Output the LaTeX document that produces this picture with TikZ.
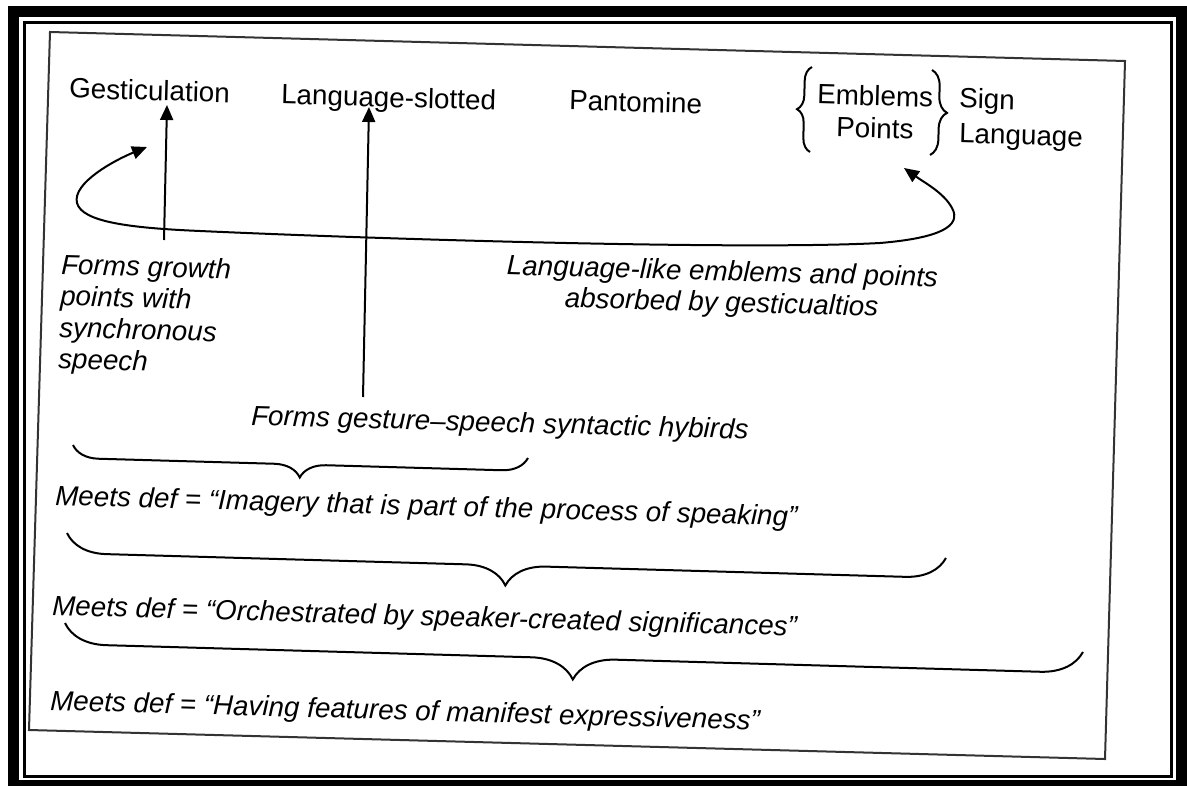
\documentclass[tikz,border=0pt]{standalone}
\usepackage{fontspec}
\setmainfont{Liberation Sans}
\usetikzlibrary{arrows.meta,decorations.pathreplacing}
\begin{document}
\begin{tikzpicture}[x=0.5pt,y=-0.5pt,
  lbl/.style={inner sep=0pt, outer sep=0pt, font=\fontsize{13.9}{16}\selectfont, rotate=-1.6, anchor=base west},
  ilbl/.style={lbl, font=\fontsize{13.9}{16}\selectfont\itshape},
  ln/.style={line width=1pt, black},
  arr/.style={ln, -{Triangle[length=7.5pt,width=6.5pt]}},
  darr/.style={ln, {Triangle[length=7.5pt,width=6.5pt]}-{Triangle[length=7.5pt,width=6.5pt]}},
  brc/.style={ln, decorate, decoration={brace, mirror, amplitude=#1}},
  vbrc/.style={ln, decorate, decoration={brace, amplitude=#1}},
]
\useasboundingbox (0,0) rectangle (1187,786);
\fill[white] (0,0) rectangle (1187,786);
% frame
\fill[black] (8,6) rectangle (1187,786);
\fill[white] (19,17) rectangle (1176,780);
\draw[line width=1.5pt] (24,22.5) rectangle (1171.5,776.5);
% page
\draw[line width=1pt, black!80] (50,32) -- (1125,61) -- (1105,759) -- (29,730) -- cycle;

% top labels
\node[lbl] (gest) at (69,98) {Gesticulation};
\node[lbl] (lslot) at (281,104) {Language-slotted};
\node[lbl] (pant) at (569,110) {Pantomine};
\node[lbl] (embl) at (817,104) {Emblems};
\node[lbl] (pts) at (836,137) {Points};
\node[lbl] (sign) at (959,108) {Sign};
\node[lbl] (slang) at (959,143) {Language};

% italic labels
\node[ilbl] (fg1) at (61,274) {Forms growth};
\node[ilbl] (fg2) at (60,305.5) {points with};
\node[ilbl] (fg3) at (59,337) {synchronous};
\node[ilbl] (fg4) at (58,368.5) {speech};
\node[ilbl,anchor=center,align=center,font=\fontsize{13.9}{15.5}\selectfont\itshape] (ll) at (722,289)
  {Language-like emblems and points\\absorbed by gesticualtios};
\node[ilbl] (fgs) at (251,425) {Forms gesture--speech syntactic hybirds};
\node[ilbl] (m1) at (55,505) {Meets def = “Imagery that is part of the process of speaking”};
\node[ilbl] (m2) at (52,615) {Meets def = “Orchestrated by speaker-created significances”};
\node[ilbl] (m3) at (50,710) {Meets def = “Having features of manifest expressiveness”};

% vertical arrows
\coordinate (a1b) at (164,240); \coordinate (a1t) at (167,105);
\draw[arr] (a1b) -- (a1t);
\coordinate (a2b) at (363,397); \coordinate (a2t) at (369,107);
\draw[arr] (a2b) -- (a2t);

% curved double arrow
\coordinate (cl) at (147,147); \coordinate (cr) at (904,168);
\draw[darr] (cl) .. controls (115,160) and (72,183) .. (77,203)
  .. controls (82,222) and (130,228) .. (200,231)
  .. controls (400,240) and (750,250) .. (880,243)
  .. controls (940,238) and (962,226) .. (952,208)
  .. controls (944,193) and (925,183) .. (cr);

% small braces around Emblems / Points
\coordinate (lbb) at (810,152); \coordinate (lbt) at (812,67);
\draw[vbrc=7pt] (lbb) -- (lbt);
\coordinate (rbt) at (932,70); \coordinate (rbb) at (930,155);
\draw[vbrc=8pt] (rbt) -- (rbb);

% big braces
\coordinate (b1l) at (73,445); \coordinate (b1r) at (528,458);
\draw[brc=13pt] (b1l) -- (b1r);
\coordinate (b2l) at (67,533); \coordinate (b2r) at (946,558);
\draw[brc=20pt] (b2l) -- (b2r);
\coordinate (b3l) at (65,623); \coordinate (b3r) at (1083,652);
\draw[brc=21pt] (b3l) -- (b3r);
\end{tikzpicture}
\end{document}
